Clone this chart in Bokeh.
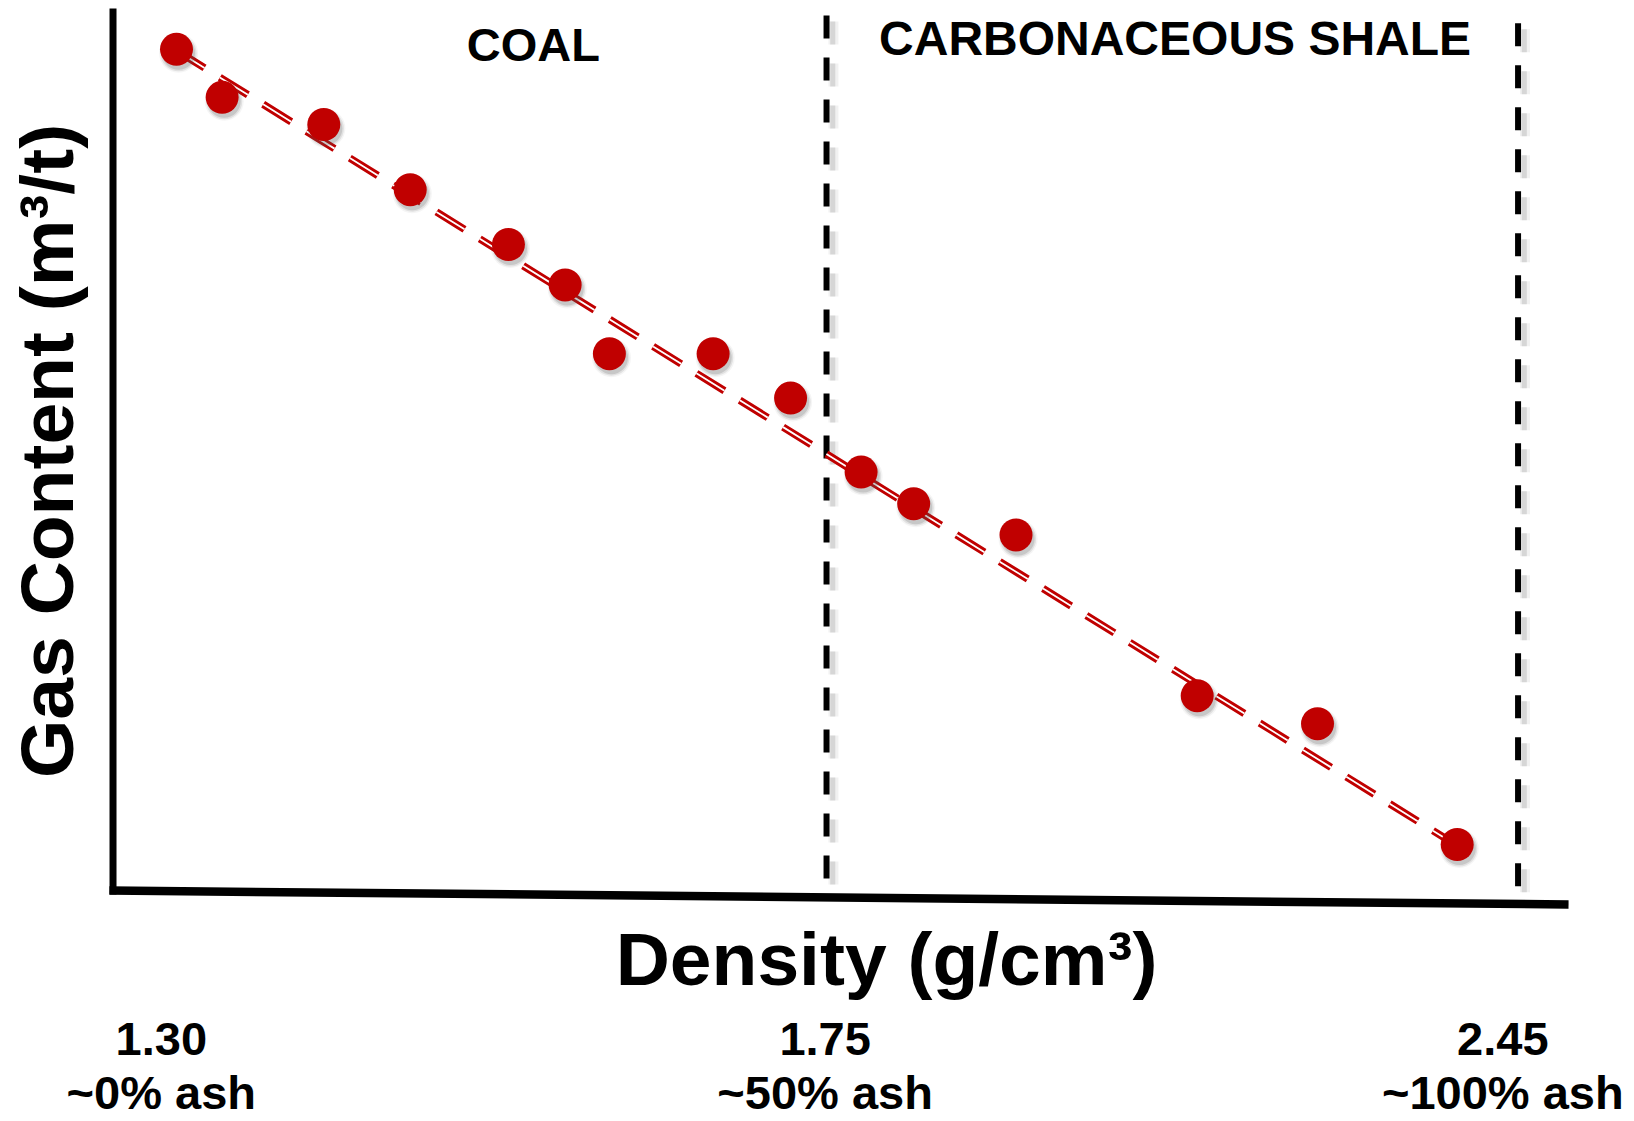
import numpy as np
from bokeh.plotting import figure
from bokeh.models import Range1d
from bokeh.core.properties import value
from bokeh.embed import file_html
from bokeh.resources import INLINE

# ---------------- data ----------------
# x: position along the density axis expressed as approx. ash content (%)
ash_pct = [3.0, 6.3, 13.65, 19.9, 27.0, 31.1, 34.3, 41.8, 47.4,
           52.5, 56.3, 63.7, 76.8, 85.5, 95.6]
# y: gas content (relative, m3/t)
gas_content = [21.03, 19.83, 19.15, 17.52, 16.15, 15.14, 13.42, 13.42, 12.31,
               10.46, 9.67, 8.89, 4.87, 4.17, 1.15]
trend_x = [3.0, 95.6]
trend_y = [21.0, 1.12]

boundary_x = [50, 100]            # coal / shale boundary, ~100 % ash limit
boundary_top = [21.875, 21.68]
boundary_bottom = [0.3, 0.1]

tick_pos = [1.9, 49.9, 98.9]
tick_density = ["1.30", "1.75", "2.45"]
tick_ash = ["~0% ash", "~50% ash", "~100% ash"]

zone_labels = ["COAL", "CARBONACEOUS SHALE"]
zone_label_x = [28.8, 75.2]
zone_label_y = [21.14, 21.29]
zone_label_size = ["47px", "48px"]

x_title = "Density (g/cm³)"
y_title = "Gas Content (m³/t)"

# ---------------- figure ----------------
RED = "#C00000"
FONT = value("Liberation Sans")

p = figure(width=1626, height=1121,
           x_range=Range1d(-9.725, 107.84), y_range=Range1d(-5.775, 22.25),
           output_backend="svg", toolbar_location=None,
           x_axis_location=None, y_axis_location=None,
           min_border=0, outline_line_color=None, background_fill_color="white",
           border_fill_color="white")
p.grid.visible = False

# vertical dashed boundaries with soft shadows
for bx, top, bot in zip(boundary_x, boundary_top, boundary_bottom):
    p.line([bx + 0.5, bx + 0.5], [top - 0.15, bot - 0.6], line_color="#777777",
           line_width=10, line_alpha=0.10, line_dash="23 19")
    p.line([bx + 0.45, bx + 0.45], [top - 0.15, bot - 0.6], line_color="#777777",
           line_width=5, line_alpha=0.22, line_dash="23 19")
    p.line([bx, bx], [top, bot], line_color="black", line_width=6, line_dash="23 19")

# axes (hand-drawn style: the horizontal one slopes slightly)
p.line([-1.59, -1.59], [22.05, -0.1], line_color="black", line_width=7)
p.line([-1.85, 103.65], [0.0, -0.35], line_color="black", line_width=8.5)

# trend line: red double dashed line
p.line(trend_x, trend_y, line_color=RED, line_width=7.5, line_dash="33 18")
p.line(trend_x, trend_y, line_color="white", line_width=1.8, line_dash="33 18")

# point shadows
sx = np.array(ash_pct) + 0.15
sy = np.array(gas_content) - 0.1
p.scatter(sx, sy, size=39, fill_color="#555555", fill_alpha=0.06, line_color=None)
p.scatter(sx, sy, size=36, fill_color="#555555", fill_alpha=0.12, line_color=None)
p.scatter(sx, sy, size=33, fill_color="#555555", fill_alpha=0.18, line_color=None)

# points
p.scatter(ash_pct, gas_content, size=33, fill_color=RED, line_color=None)

# zone labels
for lab, lx, ly, fs in zip(zone_labels, zone_label_x, zone_label_y, zone_label_size):
    p.text([lx], [ly], text=[lab], text_font=FONT, text_font_style="bold",
           text_font_size=fs, text_align="center", text_baseline="alphabetic",
           text_color="black")

# axis titles
p.text([54.34], [-1.72], text=[x_title], text_font=FONT, text_font_style="bold",
       text_font_size="75px", text_align="center", text_baseline="alphabetic",
       text_color="black")
p.text([-6.35], [10.99], text=[y_title], angle=np.pi / 2, text_font=FONT,
       text_font_style="bold", text_font_size="75px", text_align="center",
       text_baseline="alphabetic", text_color="black")

# tick annotations
p.text(tick_pos, [-3.72] * 3, text=tick_density, text_font=FONT, text_font_style="bold",
       text_font_size="47px", text_align="center", text_baseline="alphabetic",
       text_color="black")
p.text(tick_pos, [-5.04] * 3, text=tick_ash, text_font=FONT, text_font_style="bold",
       text_font_size="47px", text_align="center", text_baseline="alphabetic",
       text_color="black")

open("out.html", "w").write(file_html(p, INLINE))
